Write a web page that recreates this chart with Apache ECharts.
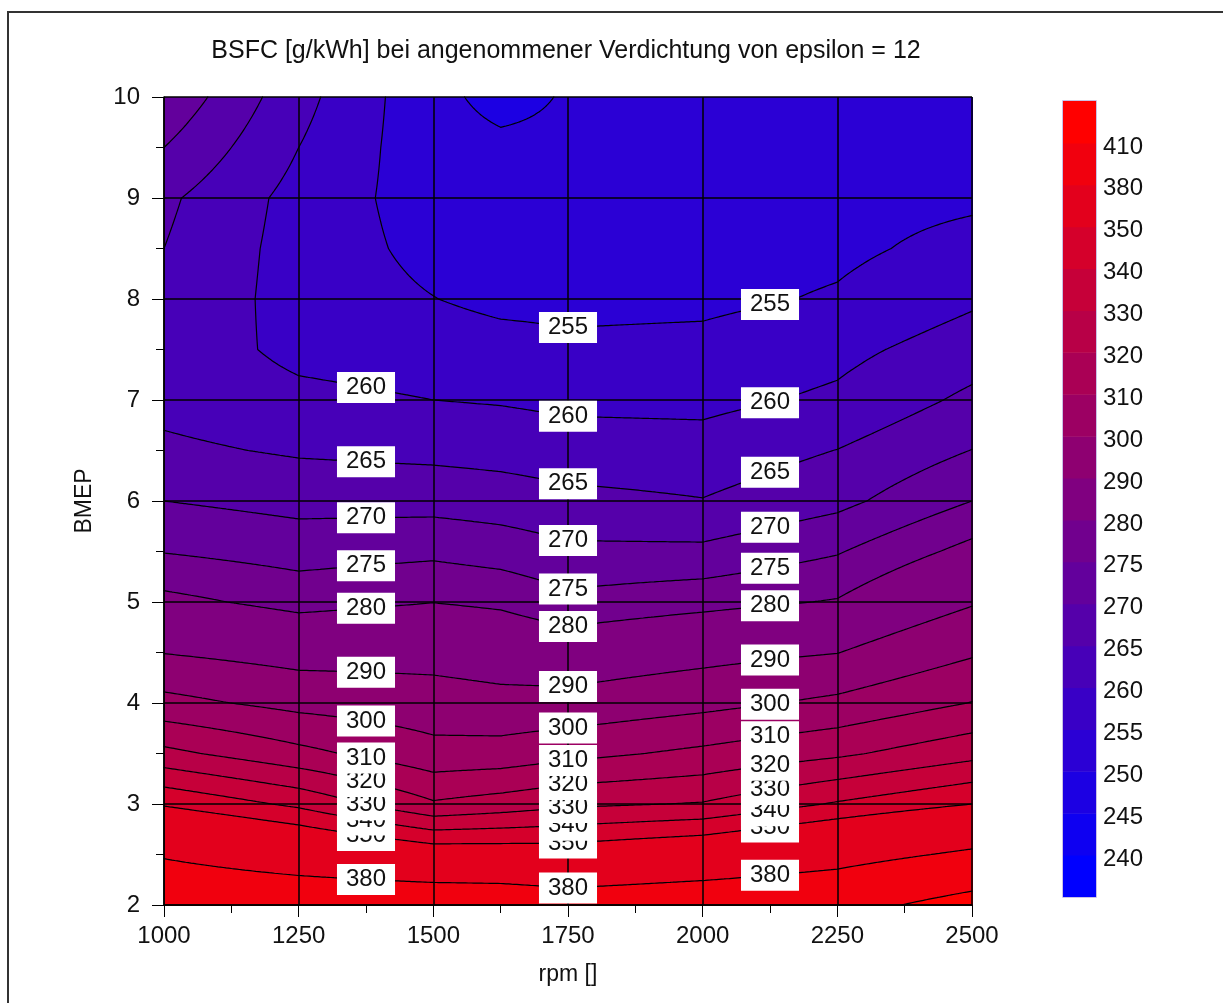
<!DOCTYPE html>
<html><head><meta charset="utf-8">
<script src="https://cdn.jsdelivr.net/npm/echarts@6/dist/echarts.min.js"></script>
<style>html,body{margin:0;padding:0;background:#fff}#c{width:1223px;height:1003px}</style>
</head><body><div id="c"></div>
<script>
// ---- data ----
const rpm = [1000, 1250, 1500, 1625, 1750, 2000, 2250, 2500];
const bmep = [2, 2.5, 3, 3.5, 4, 4.5, 5, 5.5, 6, 6.5, 7, 7.5, 8, 8.5, 9, 9.5, 10];
// BSFC [g/kWh], one row per bmep value, one column per rpm value
const bsfc = [
  [400.0, 398.0, 398.0, 397.0, 392.0, 397.0, 401.0, 420.0],
  [378.2, 367.2, 357.7, 357.1, 356.4, 361.9, 371.5, 383.7],
  [348.8, 337.8, 321.2, 324.4, 328.1, 330.7, 341.1, 350.0],
  [322.7, 312.8, 303.4, 303.9, 307.1, 312.2, 318.2, 326.7],
  [302.9, 297.0, 294.1, 292.7, 293.0, 297.1, 302.1, 310.3],
  [289.7, 286.2, 286.7, 285.4, 283.8, 286.8, 289.8, 298.8],
  [281.5, 278.3, 279.9, 279.0, 276.4, 278.3, 280.4, 289.2],
  [274.8, 272.9, 273.9, 272.8, 271.0, 271.1, 274.6, 281.7],
  [270.0, 268.4, 268.2, 267.5, 266.4, 265.2, 268.6, 275.0],
  [266.0, 264.4, 263.7, 263.2, 262.3, 262.0, 265.1, 270.1],
  [263.5, 261.3, 260.0, 259.6, 258.9, 258.7, 260.9, 266.1],
  [263.2, 258.6, 257.5, 256.8, 256.0, 256.4, 258.6, 262.5],
  [264.6, 257.8, 255.1, 253.8, 253.7, 253.9, 255.5, 259.2],
  [265.0, 258.0, 253.5, 252.8, 252.8, 253.0, 254.0, 256.5],
  [266.0, 258.3, 252.5, 251.8, 251.8, 252.2, 253.5, 254.2],
  [270.0, 260.0, 251.8, 251.0, 251.0, 251.6, 252.8, 253.3],
  [274.0, 261.7, 251.3, 248.5, 250.4, 251.2, 252.3, 252.6]
];
const levels = [240, 245, 250, 255, 260, 265, 270, 275, 280, 290, 300, 310, 320, 330, 340, 350, 380, 410];
const labelRpm = [1375, 1750, 2125];
const labelLevels = [
  [260, 265, 270, 275, 280, 290, 300, 310, 320, 330, 340, 350, 380],
  [255, 260, 265, 270, 275, 280, 290, 300, 310, 320, 330, 340, 350, 380],
  [255, 260, 265, 270, 275, 280, 290, 300, 310, 320, 330, 340, 350, 380]
];
const titleText = 'BSFC [g/kWh] bei angenommener Verdichtung von epsilon = 12';
const xName = 'rpm []';
const yName = 'BMEP';

// ---- helpers ----
const FONT = '"Liberation Sans", Arial, sans-serif';
const X0 = rpm[0], X1 = rpm[rpm.length - 1], Y0 = bmep[0], Y1 = bmep[bmep.length - 1];
function field(x, y) {
  let i = 0; while (i < rpm.length - 2 && x > rpm[i + 1]) i++;
  let j = 0; while (j < bmep.length - 2 && y > bmep[j + 1]) j++;
  const tx = (x - rpm[i]) / (rpm[i + 1] - rpm[i]);
  const ty = (y - bmep[j]) / (bmep[j + 1] - bmep[j]);
  return bsfc[j][i] * (1 - tx) * (1 - ty) + bsfc[j][i + 1] * tx * (1 - ty) +
         bsfc[j + 1][i] * (1 - tx) * ty + bsfc[j + 1][i + 1] * tx * ty;
}
function bandOf(v) { let k = 0; while (k < levels.length && v >= levels[k]) k++; return k; }
const nB = levels.length + 1;
const bandColors = [];
for (let i = 0; i < nB; i++) {
  const r = Math.round(255 * i / (nB - 1)), b = Math.round(255 * (nB - 1 - i) / (nB - 1));
  bandColors.push('rgb(' + r + ',0,' + b + ')');
}

// filled bands: run-length rows
const NX = 808, NY = 808;
const fillData = [];
for (let r = 0; r < NY; r++) {
  const ya = Y0 + (Y1 - Y0) * r / NY, yb = Y0 + (Y1 - Y0) * (r + 1) / NY, yc = (ya + yb) / 2;
  let start = 0, cur = bandOf(field(X0 + (X1 - X0) * 0.5 / NX, yc));
  for (let c = 1; c <= NX; c++) {
    const b = c < NX ? bandOf(field(X0 + (X1 - X0) * (c + 0.5) / NX, yc)) : -1;
    if (b !== cur) {
      fillData.push([X0 + (X1 - X0) * start / NX, X0 + (X1 - X0) * c / NX, ya, yb, cur]);
      start = c; cur = b;
    }
  }
}

// contour lines via marching squares
const NXS = 301, NYS = 321;
const gx = [], gy = [];
for (let i = 0; i < NXS; i++) gx.push(X0 + (X1 - X0) * i / (NXS - 1));
for (let j = 0; j < NYS; j++) gy.push(Y0 + (Y1 - Y0) * j / (NYS - 1));
const G = gy.map(y => gx.map(x => field(x, y)));
const segs = levels.map(() => []);
levels.forEach((L, k) => {
  const out = segs[k];
  for (let j = 0; j < NYS - 1; j++) {
    for (let i = 0; i < NXS - 1; i++) {
      const a = G[j][i], b = G[j][i + 1], c = G[j + 1][i + 1], d = G[j + 1][i];
      const sa = a >= L, sb = b >= L, sc = c >= L, sd = d >= L;
      if (sa === sb && sb === sc && sc === sd) continue;
      const xa = gx[i], xb = gx[i + 1], ya = gy[j], yb = gy[j + 1];
      const P = {};
      if (sa !== sb) P.bottom = [xa + (xb - xa) * (L - a) / (b - a), ya];
      if (sb !== sc) P.right = [xb, ya + (yb - ya) * (L - b) / (c - b)];
      if (sd !== sc) P.top = [xa + (xb - xa) * (L - d) / (c - d), yb];
      if (sa !== sd) P.left = [xa, ya + (yb - ya) * (L - a) / (d - a)];
      const keys = Object.keys(P);
      if (keys.length === 2) {
        out.push(P[keys[0]][0], P[keys[0]][1], P[keys[1]][0], P[keys[1]][1]);
      } else if (keys.length === 4) {
        const sm = (a + b + c + d) / 4 >= L;
        const corners = [[sa, 'bottom', 'left'], [sb, 'bottom', 'right'], [sc, 'right', 'top'], [sd, 'top', 'left']];
        corners.forEach(cn => {
          if (cn[0] !== sm) out.push(P[cn[1]][0], P[cn[1]][1], P[cn[2]][0], P[cn[2]][1]);
        });
      }
    }
  }
});
const lineData = [];
segs.forEach((s, k) => { if (s.length) lineData.push([X0, Y0, k]); });

// contour labels: where each level crosses the label columns
function findCross(x, L) {
  const st = 0.002;
  let prev = field(x, Y0);
  for (let y = Y0 + st; y <= Y1 + 1e-9; y += st) {
    const v = field(x, y);
    if (prev > L && v <= L) return y - st + st * (prev - L) / (prev - v);
    prev = v;
  }
  return null;
}
const labelData = [];
labelRpm.forEach((x, ci) => {
  labelLevels[ci].forEach(L => {
    const y = findCross(x, L);
    if (y !== null) labelData.push([x, y, L]);
  });
});
labelData.sort((p, q) => q[2] - p[2]);

const barData = [];
for (let i = 0; i < nB; i++) barData.push([0, i]);

// ---- chart ----
const chart = echarts.init(document.getElementById('c'), null, { renderer: 'canvas' });
const txt = { fontFamily: FONT, color: '#111' };
chart.setOption({
  animation: false,
  backgroundColor: '#fff',
  textStyle: { fontFamily: FONT },
  title: {
    text: titleText, left: 561, top: 34, textAlign: 'center',
    textStyle: { fontSize: 25, fontWeight: 'normal', color: '#111', fontFamily: FONT }
  },
  graphic: [{
    type: 'polyline', silent: true,
    shape: { points: [[8, 1010], [8, 12], [1230, 12]] },
    style: { stroke: '#333', lineWidth: 2, fill: null }
  }],
  grid: [
    { left: 164, top: 97, width: 808, height: 808 },
    { left: 1063, top: 101, width: 33, height: 796 }
  ],
  xAxis: [{
    gridIndex: 0, type: 'value', min: 1000, max: 2500, interval: 250, z: 3,
    axisLine: { show: true, onZero: false, lineStyle: { color: '#000', width: 1.5 } },
    axisTick: { show: true, length: 12, lineStyle: { color: '#000', width: 1 } },
    minorTick: { show: true, splitNumber: 2, length: 8, lineStyle: { color: '#000', width: 1 } },
    splitLine: { show: true, lineStyle: { color: '#000', width: 1.5 } },
    axisLabel: Object.assign({ fontSize: 24, margin: 19, formatter: v => String(v) }, txt),
    name: xName, nameLocation: 'middle', nameGap: 58,
    nameTextStyle: Object.assign({ fontSize: 23 }, txt)
  }, {
    gridIndex: 1, type: 'value', min: 0, max: 1, show: false
  }],
  yAxis: [{
    gridIndex: 0, type: 'value', min: 2, max: 10, interval: 1, z: 3,
    axisLine: { show: true, onZero: false, lineStyle: { color: '#000', width: 1.5 } },
    axisTick: { show: true, length: 12, lineStyle: { color: '#000', width: 1 } },
    minorTick: { show: true, splitNumber: 2, length: 8, lineStyle: { color: '#000', width: 1 } },
    splitLine: { show: true, lineStyle: { color: '#000', width: 1.5 } },
    axisLabel: Object.assign({ fontSize: 24, margin: 24, formatter: v => String(v) }, txt),
    name: yName, nameLocation: 'middle', nameGap: 68, nameRotate: 90,
    nameTextStyle: Object.assign({ fontSize: 23 }, txt)
  }, {
    gridIndex: 1, type: 'value', min: 0, max: nB, interval: 1, position: 'right',
    axisLine: { show: false }, axisTick: { show: false }, splitLine: { show: false },
    axisLabel: Object.assign({
      fontSize: 24, margin: 7,
      formatter: v => (v >= 1 && v <= levels.length) ? '{a|' + levels[v - 1] + '}' : '',
      rich: { a: { fontSize: 24, fontFamily: FONT, color: '#111', padding: [8, 0, 0, 0] } }
    }, txt)
  }],
  series: [{
    type: 'custom', name: 'fill', xAxisIndex: 0, yAxisIndex: 0, z: 1, silent: true,
    progressive: 0, encode: { x: [0, 1], y: [2, 3] }, data: fillData,
    renderItem: (params, api) => {
      const p0 = api.coord([api.value(0), api.value(3)]);
      const p1 = api.coord([api.value(1), api.value(2)]);
      return {
        type: 'rect',
        shape: { x: p0[0], y: p0[1], width: p1[0] - p0[0] + 1, height: p1[1] - p0[1] + 1 },
        style: { fill: bandColors[api.value(4)] }
      };
    }
  }, {
    type: 'custom', name: 'lines', xAxisIndex: 0, yAxisIndex: 0, z: 2, silent: true,
    progressive: 0, encode: { x: 0, y: 1 }, data: lineData,
    renderItem: (params, api) => {
      const s = segs[api.value(2)];
      let d = '';
      for (let m = 0; m < s.length; m += 4) {
        const a = api.coord([s[m], s[m + 1]]), b = api.coord([s[m + 2], s[m + 3]]);
        d += 'M' + a[0].toFixed(2) + ' ' + a[1].toFixed(2) + 'L' + b[0].toFixed(2) + ' ' + b[1].toFixed(2);
      }
      return {
        type: 'path', shape: { pathData: d },
        style: { fill: 'none', stroke: '#000', lineWidth: 1.2, lineCap: 'round', lineJoin: 'round' }
      };
    }
  }, {
    type: 'custom', name: 'labels', xAxisIndex: 0, yAxisIndex: 0, z: 5, silent: true,
    progressive: 0, encode: { x: 0, y: 1 }, data: labelData,
    renderItem: (params, api) => {
      const p = api.coord([api.value(0), api.value(1)]);
      return {
        type: 'text', x: p[0], y: p[1],
        style: {
          text: String(api.value(2)), fill: '#111', font: '24px ' + FONT,
          align: 'center', verticalAlign: 'middle',
          backgroundColor: '#fff', padding: [4, 9, 3, 9]
        }
      };
    }
  }, {
    type: 'custom', name: 'colorbar', xAxisIndex: 1, yAxisIndex: 1, z: 1, silent: true,
    encode: { x: 0, y: 1 }, data: barData,
    renderItem: (params, api) => {
      const i = api.value(1);
      const p0 = api.coord([0, i + 1]), p1 = api.coord([1, i]);
      return {
        type: 'rect',
        shape: { x: p0[0], y: p0[1], width: p1[0] - p0[0], height: p1[1] - p0[1] + (i > 0 ? 0.5 : 0) },
        style: { fill: bandColors[i] }
      };
    }
  }, {
    type: 'custom', name: 'colorbarFrame', xAxisIndex: 1, yAxisIndex: 1, z: 2, silent: true,
    encode: { x: 0, y: 1 }, data: [[0, 0]],
    renderItem: (params, api) => {
      const p0 = api.coord([0, nB]), p1 = api.coord([1, 0]);
      return {
        type: 'rect',
        shape: { x: p0[0] - 0.5, y: p0[1] - 0.5, width: p1[0] - p0[0] + 1, height: p1[1] - p0[1] + 1 },
        style: { fill: 'none', stroke: '#c9c2e6', lineWidth: 1 }
      };
    }
  }]
});
</script>
</body></html>
